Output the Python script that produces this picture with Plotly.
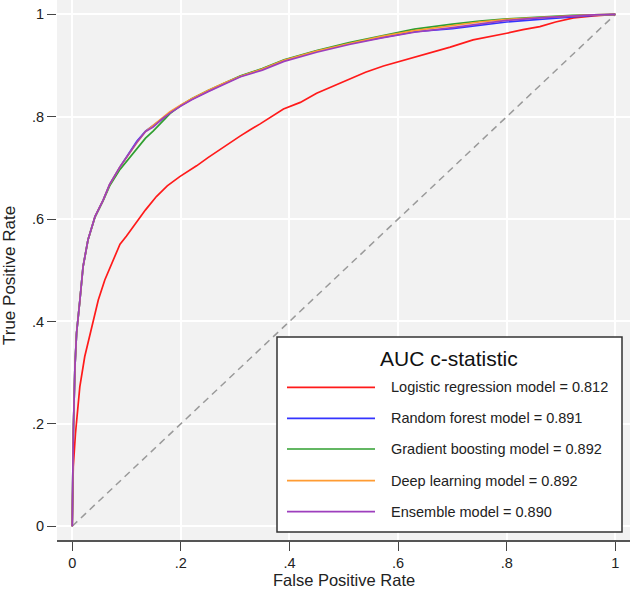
import plotly.graph_objects as go

# ---------------- data ----------------
lr_fpr = [0, 0.002, 0.006, 0.014, 0.023, 0.036, 0.048, 0.060, 0.075, 0.088, 0.100, 0.119, 0.135,
          0.155, 0.175, 0.198, 0.229, 0.250, 0.272, 0.309, 0.327, 0.346, 0.389, 0.420, 0.450,
          0.480, 0.511, 0.540, 0.573, 0.604, 0.634, 0.665, 0.696, 0.738, 0.770, 0.800, 0.830,
          0.861, 0.890, 0.923, 0.960, 1.0]
lr_tpr = [0, 0.116, 0.181, 0.272, 0.331, 0.390, 0.442, 0.481, 0.520, 0.551, 0.567, 0.595, 0.618,
          0.644, 0.665, 0.683, 0.704, 0.720, 0.736, 0.762, 0.774, 0.786, 0.815, 0.828, 0.846,
          0.860, 0.873, 0.887, 0.899, 0.908, 0.917, 0.927, 0.936, 0.950, 0.956, 0.963, 0.970,
          0.976, 0.985, 0.993, 0.997, 1.0]

ml_fpr = [0, 0.001, 0.002, 0.005, 0.008, 0.014, 0.020, 0.029, 0.042, 0.057, 0.069, 0.088, 0.100,
          0.119, 0.135, 0.149, 0.165, 0.180, 0.200, 0.220, 0.250, 0.280, 0.310, 0.350, 0.390,
          0.450, 0.510, 0.570, 0.630, 0.700, 0.750, 0.800, 0.860, 0.920, 0.960, 1.0]
rf_tpr = [0, 0.100, 0.180, 0.310, 0.377, 0.440, 0.507, 0.559, 0.605, 0.637, 0.668, 0.702, 0.722,
          0.752, 0.772, 0.782, 0.795, 0.808, 0.822, 0.834, 0.850, 0.865, 0.879, 0.893, 0.910,
          0.928, 0.943, 0.955, 0.966, 0.972, 0.978, 0.985, 0.990, 0.995, 0.998, 1.0]
gb_tpr = [0, 0.100, 0.180, 0.310, 0.377, 0.440, 0.507, 0.559, 0.604, 0.636, 0.665, 0.697, 0.712,
          0.738, 0.758, 0.772, 0.790, 0.806, 0.822, 0.835, 0.851, 0.866, 0.880, 0.894, 0.911,
          0.929, 0.945, 0.958, 0.971, 0.981, 0.987, 0.991, 0.995, 0.998, 0.999, 1.0]
dl_tpr = [0, 0.100, 0.180, 0.310, 0.377, 0.440, 0.507, 0.559, 0.605, 0.637, 0.668, 0.702, 0.721,
          0.749, 0.771, 0.783, 0.797, 0.810, 0.823, 0.835, 0.851, 0.866, 0.879, 0.893, 0.910,
          0.928, 0.943, 0.957, 0.968, 0.978, 0.985, 0.990, 0.994, 0.997, 0.999, 1.0]
en_tpr = [0, 0.100, 0.180, 0.310, 0.377, 0.440, 0.507, 0.559, 0.605, 0.637, 0.668, 0.702, 0.721,
          0.750, 0.771, 0.780, 0.795, 0.807, 0.821, 0.833, 0.849, 0.864, 0.878, 0.891, 0.908,
          0.926, 0.941, 0.954, 0.965, 0.974, 0.981, 0.988, 0.993, 0.997, 0.999, 1.0]

ref_line = [0, 1]

legend_title = "AUC c-statistic"
labels = ["Logistic regression model = 0.812",
          "Random forest model = 0.891",
          "Gradient boosting model = 0.892",
          "Deep learning model = 0.892",
          "Ensemble model = 0.890"]
colors = ["#ff1a1a", "#3434ff", "#2f9f2f", "#ff9c33", "#9d3fbd"]

x_title = "False Positive Rate"
y_title = "True Positive Rate"
tick_vals = [0, 0.2, 0.4, 0.6, 0.8, 1]
tick_text = ["0", ".2", ".4", ".6", ".8", "1"]

# ---------------- figure ----------------
W, H = 632, 590
ML, MR, MT, MB = 57, 2, 0, 50
FONT = "Liberation Sans, Arial, sans-serif"

fig = go.Figure()
fig.add_trace(go.Scatter(x=ref_line, y=ref_line, mode="lines",
                         line=dict(color="#9a9a9a", width=1.5, dash="7px,5px"),
                         showlegend=False, hoverinfo="skip"))

series = [(lr_fpr, lr_tpr), (ml_fpr, rf_tpr), (ml_fpr, gb_tpr), (ml_fpr, dl_tpr), (ml_fpr, en_tpr)]
for (fx, ty), name, c in zip(series, labels, colors):
    fig.add_trace(go.Scatter(x=fx, y=ty, mode="lines", name=name,
                             line=dict(color=c, width=1.7), showlegend=False))

# pixel -> paper helpers
pw, ph = W - ML - MR, H - MT - MB
def px2x(p):
    return (p - ML) / pw
def py2y(p):
    return (MT + ph - p) / ph

# custom legend box (Stata-like)
fig.add_shape(type="rect", xref="paper", yref="paper",
              x0=px2x(277), x1=px2x(622), y0=py2y(532), y1=py2y(337),
              line=dict(color="#333333", width=1.5), fillcolor="white", layer="above")
fig.add_annotation(xref="paper", yref="paper", x=px2x(449), y=py2y(359),
                   text=legend_title, showarrow=False, xanchor="center", yanchor="middle",
                   font=dict(size=21, color="#111111", family=FONT))
row_y = [387.3, 418.3, 449.0, 480.7, 511.7]
for ry, name, c in zip(row_y, labels, colors):
    fig.add_shape(type="line", xref="paper", yref="paper",
                  x0=px2x(287), x1=px2x(375), y0=py2y(ry), y1=py2y(ry),
                  line=dict(color=c, width=1.7), layer="above")
    fig.add_annotation(xref="paper", yref="paper", x=px2x(389), y=py2y(ry),
                       text=name, showarrow=False, xanchor="left", yanchor="middle",
                       font=dict(size=14.5, color="#222222", family=FONT))

# axis titles as annotations for exact placement
fig.add_annotation(xref="paper", yref="paper", x=px2x(344), y=py2y(590),
                   text=x_title, showarrow=False, xanchor="center", yanchor="bottom",
                   borderpad=0, font=dict(size=16.5, color="#222222", family=FONT))
fig.add_annotation(xref="paper", yref="paper", x=px2x(9), y=py2y(276),
                   text=y_title, showarrow=False, xanchor="center", yanchor="middle",
                   textangle=-90, font=dict(size=17, color="#222222", family=FONT))

axis_common = dict(tickvals=tick_vals, ticktext=tick_text, showgrid=True,
                   gridcolor="white", gridwidth=2, zeroline=False, automargin=False,
                   ticks="outside", ticklen=9, tickwidth=1.3, tickcolor="#444444",
                   tickfont=dict(size=14.5, color="#222222", family=FONT))

fig.update_xaxes(range=[-0.028, 1.027], showline=True, linecolor="#555555", linewidth=1.5,
                 **axis_common)
fig.update_yaxes(range=[-0.027, 1.028], showline=False, **axis_common)

fig.update_layout(width=W, height=H, margin=dict(l=ML, r=MR, t=MT, b=MB),
                  plot_bgcolor="#f2f2f2", paper_bgcolor="white",
                  font=dict(family=FONT), showlegend=False)

# remove the browser's default 8px body margin so the figure sits at the page origin
fig.write_html("out.html", config={"displayModeBar": False},
               post_script="document.body.style.margin='0';document.body.style.overflow='hidden';")
